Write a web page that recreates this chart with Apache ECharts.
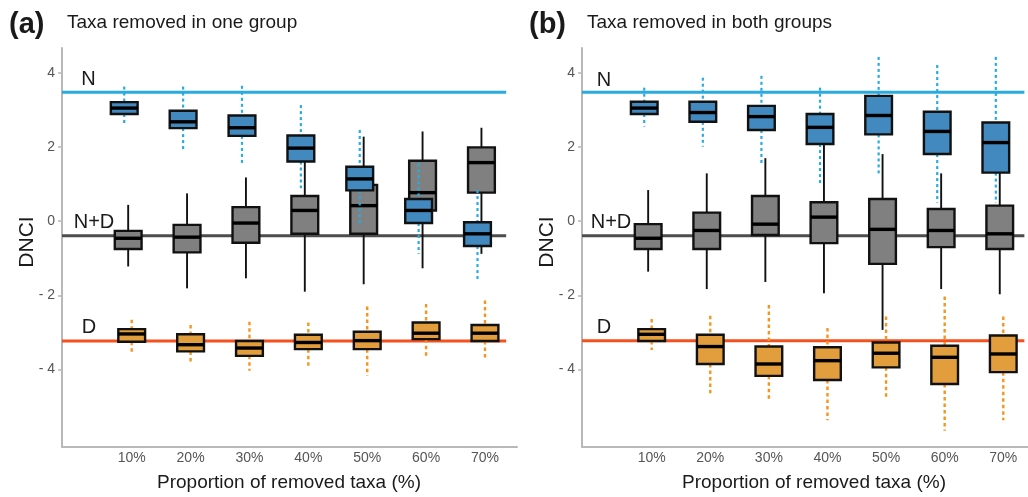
<!DOCTYPE html>
<html><head><meta charset="utf-8">
<script src="https://cdn.jsdelivr.net/npm/echarts@6/dist/echarts.min.js"></script>
<style>html,body{margin:0;padding:0;background:#fff}#c{width:1028px;height:497px}</style>
</head><body><div id="c"></div>
<script>
// ---------- data ----------
const categories = ['10%', '20%', '30%', '40%', '50%', '60%', '70%'];
const yTicks = [-4, -2, 0, 2, 4];
// each box: [whiskerLow, Q1, median, Q3, whiskerHigh]
const blueOne = [
  [2.60, 2.89, 3.05, 3.21, 3.63],
  [1.92, 2.51, 2.68, 2.98, 3.63],
  [1.56, 2.30, 2.52, 2.85, 3.65],
  [0.89, 1.61, 1.97, 2.31, 3.13],
  [-0.15, 0.83, 1.14, 1.47, 2.46],
  [-0.88, -0.05, 0.29, 0.60, 1.56],
  [-1.58, -0.67, -0.34, -0.03, 0.84]
];
const grayOne = [
  [-1.22, -0.75, -0.46, -0.26, 0.44],
  [-1.81, -0.84, -0.43, -0.10, 0.75],
  [-1.54, -0.58, -0.05, 0.38, 1.18],
  [-1.90, -0.34, 0.29, 0.68, 1.75],
  [-1.70, -0.34, 0.42, 0.98, 2.28],
  [-1.27, 0.29, 0.77, 1.63, 2.42],
  [-0.88, 0.77, 1.58, 1.99, 2.52]
];
const orangeOne = [
  [-3.56, -3.25, -3.04, -2.91, -2.66],
  [-3.81, -3.51, -3.33, -3.05, -2.80],
  [-4.03, -3.63, -3.42, -3.23, -2.71],
  [-3.96, -3.45, -3.27, -3.06, -2.73],
  [-4.17, -3.45, -3.22, -2.98, -2.30],
  [-3.69, -3.18, -3.02, -2.73, -2.23],
  [-3.69, -3.23, -3.02, -2.80, -2.14]
];
const blueBoth = [
  [2.55, 2.89, 3.05, 3.22, 3.60],
  [2.01, 2.68, 2.93, 3.22, 3.87],
  [1.56, 2.46, 2.82, 3.11, 3.92],
  [1.01, 2.08, 2.53, 2.89, 3.60],
  [1.29, 2.34, 2.85, 3.38, 4.43],
  [0.50, 1.81, 2.42, 2.95, 4.21],
  [0.49, 1.31, 2.12, 2.66, 4.43]
];
const grayBoth = [
  [-1.36, -0.75, -0.46, -0.08, 0.84],
  [-1.83, -0.75, -0.25, 0.23, 1.29],
  [-1.64, -0.37, -0.08, 0.68, 1.70],
  [-1.94, -0.59, 0.11, 0.51, 2.15],
  [-2.93, -1.15, -0.22, 0.60, 1.81],
  [-1.83, -0.70, -0.25, 0.33, 1.29],
  [-1.97, -0.75, -0.34, 0.42, 1.40]
];
const orangeBoth = [
  [-3.47, -3.23, -3.05, -2.91, -2.64],
  [-4.64, -3.85, -3.38, -3.06, -2.55],
  [-4.86, -4.17, -3.85, -3.38, -2.26],
  [-5.37, -4.28, -3.76, -3.40, -2.88],
  [-4.73, -3.94, -3.56, -3.27, -2.57],
  [-5.65, -4.39, -3.67, -3.36, -2.03],
  [-5.37, -4.07, -3.58, -3.08, -2.57]
];
// reference levels: N, N+D, D
const refOne = [3.48, -0.39, -3.23];
const refBoth = [3.48, -0.39, -3.22];
const refNames = ['N', 'N+D', 'D'];

// ---------- styling / layout ----------
const FONT = '"Liberation Sans", Arial, Helvetica, sans-serif';
const BLUE_FILL = '#4189be', GRAY_FILL = '#808080', ORANGE_FILL = '#e29d3d';
const BLUE_LINE = '#29abe2', GRAY_LINE = '#4d4d4d', ORANGE_LINE = '#f4511e';
const BLUE_WH = {stroke: '#29abe2', lineWidth: 2.2, lineDash: [3, 3]};
const ORANGE_WH = {stroke: '#f7941d', lineWidth: 2.4, lineDash: [3.5, 3]};
const GRAY_WH = {stroke: '#111', lineWidth: 1.9};
const BOX_W = 0.455;
const Y_MIN = -6.08, Y_MAX = 4.67;
const X_RANGE = [[-0.184, 7.544], [-0.189, 7.422]];
const REF_END = 7.36;

function boxSeries(g, data, dodge, fill, wStyle) {
  return {
    type: 'custom', xAxisIndex: g, yAxisIndex: g, silent: true,
    data: data.map((d, i) => [i + 1 + dodge].concat(d)),
    encode: {x: 0, y: [1, 2, 3, 4, 5]},
    renderItem: function (params, api) {
      const x = api.value(0);
      const pt = k => api.coord([x, api.value(k)]);
      const lo = pt(1), q1 = pt(2), md = pt(3), q3 = pt(4), hi = pt(5);
      const w = api.size([BOX_W, 0])[0];
      const cx = lo[0];
      return {type: 'group', children: [
        {type: 'line', shape: {x1: cx, y1: hi[1], x2: cx, y2: q3[1]}, style: Object.assign({}, wStyle)},
        {type: 'line', shape: {x1: cx, y1: q1[1], x2: cx, y2: lo[1]}, style: Object.assign({}, wStyle)},
        {type: 'rect', shape: {x: cx - w / 2, y: q3[1], width: w, height: q1[1] - q3[1]},
          style: {fill: fill, stroke: '#111', lineWidth: 2.4}},
        {type: 'line', shape: {x1: cx - w / 2, y1: md[1], x2: cx + w / 2, y2: md[1]},
          style: {stroke: '#000', lineWidth: 3.4}}
      ]};
    }
  };
}
function refSeries(g, vals) {
  const cols = [BLUE_LINE, GRAY_LINE, ORANGE_LINE];
  return vals.map((v, k) => ({
    type: 'line', xAxisIndex: g, yAxisIndex: g, silent: true, symbol: 'none', z: 1,
    data: [[X_RANGE[g][0], v], [REF_END, v]],
    lineStyle: {color: cols[k], width: 3}
  }));
}
function yFmt(v) { return v < 0 ? '- ' + Math.abs(v) : String(v); }

const grids = [
  {left: 62, top: 48, width: 455, height: 398.7},
  {left: 582, top: 48, width: 446, height: 398.7}
];
const xAxes = [0, 1].map(g => ({
  gridIndex: g, type: 'value', min: X_RANGE[g][0], max: X_RANGE[g][1],
  axisLine: {onZero: false, lineStyle: {color: '#b8b8b8', width: 2}},
  axisTick: {show: false}, splitLine: {show: false},
  axisLabel: {customValues: [1, 2, 3, 4, 5, 6, 7], formatter: v => categories[Math.round(v) - 1],
    color: '#555', fontSize: 14, fontFamily: FONT, margin: 4}
}));
const yAxes = [0, 1].map(g => ({
  gridIndex: g, type: 'value', min: Y_MIN, max: Y_MAX,
  axisLine: {show: true, onZero: false, lineStyle: {color: '#b8b8b8', width: 2}},
  axisTick: {show: true, customValues: yTicks, length: 4, lineStyle: {color: '#b8b8b8', width: 1.5}},
  splitLine: {show: false},
  axisLabel: {customValues: yTicks, formatter: yFmt, color: '#555', fontSize: 14, fontFamily: FONT, margin: 7}
}));

function txt(x, y, s, font, opts) {
  return Object.assign({type: 'text', x: x, y: y, silent: true, z: 100,
    style: {text: s, font: font, fill: '#1a1a1a', align: 'left', textAlign: 'left',
      verticalAlign: 'middle', textVerticalAlign: 'middle'}}, opts || {});
}
function ctxt(x, y, s, font, opts) {
  const t = txt(x, y, s, font, opts);
  t.style.align = 'center'; t.style.textAlign = 'center';
  return t;
}
const lblFont = '20px ' + FONT;
const graphics = [
  txt(9, 25, '(a)', 'bold 29px ' + FONT),
  txt(67, 23, 'Taxa removed in one group', '19px ' + FONT),
  txt(529, 25, '(b)', 'bold 29px ' + FONT),
  txt(587, 23, 'Taxa removed in both groups', '19px ' + FONT),
  ctxt(289, 483, 'Proportion of removed taxa (%)', '19px ' + FONT),
  ctxt(814, 483, 'Proportion of removed taxa (%)', '19px ' + FONT),
  ctxt(27, 242, 'DNCI', '21px ' + FONT, {rotation: Math.PI / 2}),
  ctxt(547, 242, 'DNCI', '21px ' + FONT, {rotation: Math.PI / 2}),
  ctxt(88.5, 79, refNames[0], lblFont), ctxt(94, 222, refNames[1], lblFont), ctxt(89, 327, refNames[2], lblFont),
  ctxt(604, 80, refNames[0], lblFont), ctxt(611, 222, refNames[1], lblFont), ctxt(604, 327, refNames[2], lblFont)
];

const series = [].concat(
  refSeries(0, refOne), refSeries(1, refBoth),
  [
    boxSeries(0, grayOne, -0.06, GRAY_FILL, GRAY_WH),
    boxSeries(0, blueOne, -0.127, BLUE_FILL, BLUE_WH),
    boxSeries(0, orangeOne, 0, ORANGE_FILL, ORANGE_WH),
    boxSeries(1, grayBoth, -0.06, GRAY_FILL, GRAY_WH),
    boxSeries(1, blueBoth, -0.127, BLUE_FILL, BLUE_WH),
    boxSeries(1, orangeBoth, 0, ORANGE_FILL, ORANGE_WH)
  ]
);

const chart = echarts.init(document.getElementById('c'), null, {renderer: 'canvas'});
chart.setOption({
  animation: false, backgroundColor: '#fff',
  grid: grids, xAxis: xAxes, yAxis: yAxes, series: series, graphic: graphics
});
</script></body></html>
